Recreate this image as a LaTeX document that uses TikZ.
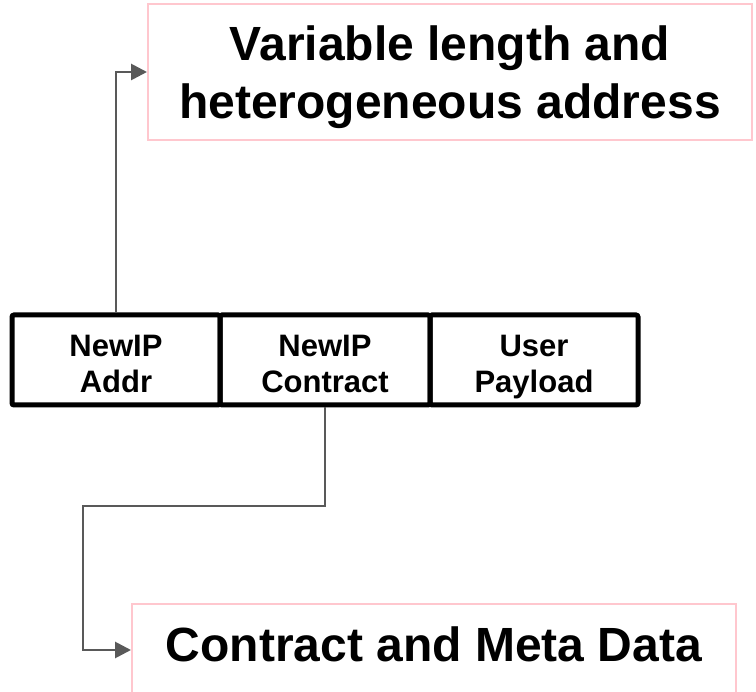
\documentclass[tikz,border=0pt]{standalone}
\usepackage{fontspec}
\setmainfont{Liberation Sans}
\usetikzlibrary{arrows.meta}
\definecolor{pinkline}{RGB}{255,199,206}
\definecolor{conngray}{RGB}{89,89,89}
\begin{document}
\begin{tikzpicture}[x=1pt,y=-1pt,
  bigbox/.style={draw=pinkline, line width=2pt, minimum width=604pt, align=center, inner sep=0pt,
    font=\fontsize{48}{58}\selectfont\bfseries},
  fieldbox/.style={draw=black, line width=5pt, rounded corners=2pt, minimum height=90pt, align=center,
    inner sep=0pt, text height=66pt, text depth=0pt, font=\fontsize{31}{36}\selectfont\bfseries},
  conn/.style={draw=conngray, line width=2.8pt, -{Triangle[length=16pt,width=16pt]}}]
\useasboundingbox (0,0) rectangle (756,692);
\clip (0,0) rectangle (756,692);

\node[bigbox, minimum height=136pt, text depth=0pt] (top) at (450,72)
  {Variable length and\\heterogeneous address};

\node[fieldbox, minimum width=208pt] (addr) at (116,360) {NewIP\\Addr};
\node[fieldbox, minimum width=210pt] (contract) at (325,360) {NewIP\\Contract};
\node[fieldbox, minimum width=208pt] (payload) at (534,360) {User\\Payload};

\node[bigbox, minimum height=116pt, text height=20pt, text depth=20pt] (meta) at (434,662)
  {Contract and Meta Data};

\coordinate (bend) at (83,506);
\draw[conn] (addr.north) |- (top.west);
\draw[conn] (contract.south) |- (bend) |- ([yshift=12pt]meta.west);
\end{tikzpicture}
\end{document}
